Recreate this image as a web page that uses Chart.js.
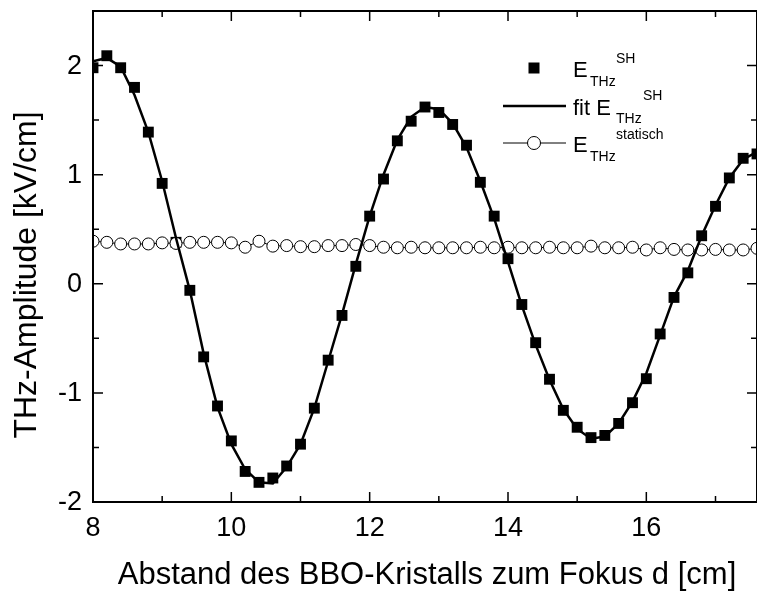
<!DOCTYPE html>
<html><head><meta charset="utf-8">
<script src="https://cdn.jsdelivr.net/npm/chart.js@4/dist/chart.umd.min.js"></script>
<style>html,body{margin:0;padding:0;background:#fff;overflow:hidden}canvas{display:block}</style>
</head><body>
<canvas id="c" width="757" height="592"></canvas>
<script>
// ---- data ----
const distances = [8.0,8.2,8.4,8.6,8.8,9.0,9.2,9.4,9.6,9.8,10.0,10.2,10.4,10.6,10.8,11.0,11.2,11.4,11.6,11.8,12.0,12.2,12.4,12.6,12.8,13.0,13.2,13.4,13.6,13.8,14.0,14.2,14.4,14.6,14.8,15.0,15.2,15.4,15.6,15.8,16.0,16.2,16.4,16.6,16.8,17.0,17.2,17.4,17.6];
const ampSH = [1.98,2.09,1.98,1.80,1.39,0.92,0.38,-0.06,-0.67,-1.12,-1.44,-1.72,-1.82,-1.78,-1.67,-1.47,-1.14,-0.70,-0.29,0.16,0.62,0.96,1.31,1.49,1.62,1.57,1.46,1.27,0.93,0.62,0.23,-0.19,-0.54,-0.875,-1.16,-1.315,-1.41,-1.39,-1.28,-1.09,-0.87,-0.46,-0.125,0.10,0.44,0.71,0.97,1.15,1.19];
const ampFit = [2.04,2.07,1.99,1.73,1.39,0.94,0.42,-0.06,-0.64,-1.13,-1.47,-1.70,-1.82,-1.83,-1.68,-1.47,-1.14,-0.71,-0.28,0.18,0.62,1.00,1.32,1.53,1.62,1.60,1.47,1.25,0.94,0.60,0.20,-0.20,-0.56,-0.88,-1.15,-1.33,-1.42,-1.40,-1.28,-1.08,-0.82,-0.47,-0.12,0.12,0.44,0.72,0.97,1.14,1.21];
const ampStatic = [0.39,0.38,0.365,0.365,0.365,0.375,0.37,0.38,0.38,0.38,0.375,0.335,0.39,0.345,0.35,0.34,0.34,0.35,0.35,0.36,0.35,0.335,0.33,0.335,0.33,0.33,0.33,0.33,0.335,0.33,0.335,0.33,0.33,0.335,0.33,0.33,0.345,0.33,0.33,0.335,0.31,0.33,0.315,0.31,0.31,0.315,0.31,0.31,0.325];
const xMajorTicks = [8,10,12,14,16];
const xMinorTicks = [9,11,13,15,17];
const yMajorTicks = [-2,-1,0,1,2];
const yMinorTicks = [-1.5,-0.5,0.5,1.5];
const xTitle = 'Abstand des BBO-Kristalls zum Fokus d [cm]';
const yTitle = 'THz-Amplitude [kV/cm]';
const FONT = '"Liberation Sans", Arial, Helvetica, sans-serif';

const pts = (ys) => distances.map((x, i) => ({x, y: ys[i]}));

const framePlugin = {
  id: 'frame',
  afterDraw(chart) {
    const {ctx, chartArea: a, scales: {x, y}} = chart;
    ctx.save();
    ctx.strokeStyle = '#000';
    ctx.lineWidth = 2;
    ctx.strokeRect(a.left, a.top, a.right - a.left, a.bottom - a.top);
    const tick = (px, len, horiz) => {
      ctx.beginPath();
      if (horiz) {
        ctx.moveTo(px, a.bottom); ctx.lineTo(px, a.bottom - len);
        ctx.moveTo(px, a.top); ctx.lineTo(px, a.top + len);
      } else {
        ctx.moveTo(a.left, px); ctx.lineTo(a.left + len, px);
        ctx.moveTo(a.right, px); ctx.lineTo(a.right - len, px);
      }
      ctx.stroke();
    };
    ctx.lineWidth = 1.5;
    xMajorTicks.forEach(v => tick(x.getPixelForValue(v), 10, true));
    xMinorTicks.forEach(v => tick(x.getPixelForValue(v), 6, true));
    yMajorTicks.forEach(v => tick(y.getPixelForValue(v), 10, false));
    yMinorTicks.forEach(v => tick(y.getPixelForValue(v), 6, false));
    ctx.fillStyle = '#000';
    ctx.font = '27px ' + FONT;
    ctx.textAlign = 'center'; ctx.textBaseline = 'middle';
    xMajorTicks.forEach(v => ctx.fillText(String(v), x.getPixelForValue(v), a.bottom + 27));
    ctx.textAlign = 'right';
    yMajorTicks.forEach(v => ctx.fillText(String(v), a.left - 11, y.getPixelForValue(v) + 1));
    ctx.font = '31px ' + FONT;
    ctx.textAlign = 'center'; ctx.textBaseline = 'alphabetic';
    ctx.fillText(xTitle, 427, 584);
    ctx.save();
    ctx.translate(36, 275);
    ctx.rotate(-Math.PI / 2);
    ctx.font = '32px ' + FONT;
    ctx.fillText(yTitle, 0, 0);
    ctx.restore();
    // legend
    const ds = chart.data.datasets;
    ctx.textAlign = 'left';
    ctx.fillStyle = ds[0].backgroundColor;
    ctx.fillRect(534 - 5.5, 68 - 5.5, 11, 11);
    ctx.fillStyle = '#000';
    ctx.font = '22px ' + FONT; ctx.fillText('E', 573, 77);
    ctx.font = '14px ' + FONT; ctx.fillText('THz', 590, 86); ctx.fillText('SH', 616, 63);
    ctx.strokeStyle = ds[1].borderColor; ctx.lineWidth = ds[1].borderWidth;
    ctx.beginPath(); ctx.moveTo(503, 106); ctx.lineTo(566, 106); ctx.stroke();
    ctx.font = '22px ' + FONT; ctx.fillText('fit E', 573, 115);
    ctx.font = '14px ' + FONT; ctx.fillText('THz', 616, 123); ctx.fillText('SH', 643, 100);
    ctx.strokeStyle = ds[2].borderColor; ctx.lineWidth = 1;
    ctx.beginPath(); ctx.moveTo(503, 143); ctx.lineTo(566, 143); ctx.stroke();
    ctx.beginPath(); ctx.arc(534, 143, 6.5, 0, Math.PI * 2);
    ctx.fillStyle = '#fff'; ctx.fill(); ctx.stroke();
    ctx.fillStyle = '#000';
    ctx.font = '22px ' + FONT; ctx.fillText('E', 573, 152);
    ctx.font = '14px ' + FONT; ctx.fillText('THz', 590, 161); ctx.fillText('statisch', 616, 139);
    ctx.restore();
  }
};

new Chart(document.getElementById('c'), {
  type: 'scatter',
  data: {
    datasets: [
      { label: 'E_THz^SH', data: pts(ampSH), showLine: false, pointStyle: 'rect',
        pointRadius: 7.7, backgroundColor: '#000', borderColor: '#000', borderWidth: 0, order: 3, clip: 0 },
      { label: 'fit E_THz^SH', data: pts(ampFit), showLine: true, pointRadius: 0, borderColor: '#000',
        borderWidth: 2.5, tension: 0, order: 1, clip: 0 },
      { label: 'E_THz^statisch', data: pts(ampStatic), showLine: true, pointStyle: 'circle', pointRadius: 6,
        backgroundColor: '#fff', borderColor: '#000', borderWidth: 1, pointBorderWidth: 1, tension: 0, order: 2, clip: 0 }
    ]
  },
  options: {
    responsive: false, animation: false, devicePixelRatio: 1,
    layout: { autoPadding: false, padding: { left: 93, top: 11, right: 0, bottom: 90 } },
    plugins: { legend: { display: false }, tooltip: { enabled: false } },
    scales: {
      x: { type: 'linear', min: 8, max: 17.6, display: false },
      y: { type: 'linear', min: -2, max: 2.5, display: false }
    }
  },
  plugins: [framePlugin]
});
</script>
</body></html>
